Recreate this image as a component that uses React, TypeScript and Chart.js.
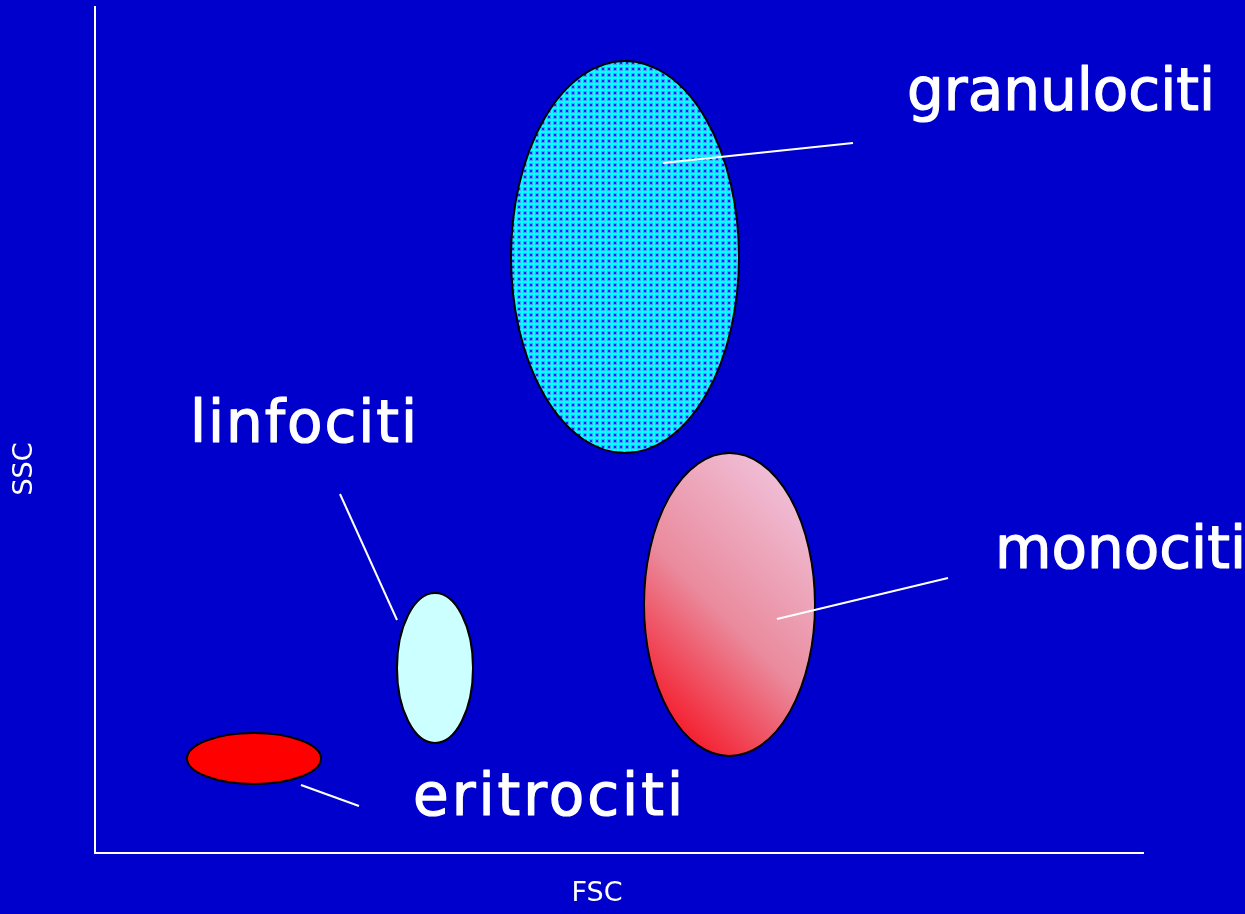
import React, { useEffect, useRef } from "react";
import { Chart, registerables } from "chart.js";

Chart.register(...registerables);

// Cell populations (FSC = forward scatter, SSC = side scatter)
const populations = ["granulociti", "monociti", "linfociti", "eritrociti"];
const fscCenter = [530, 634.5, 340, 159];
const sscCenter = [596, 248.5, 185, 94.5];
const fscSpread = [114, 85.5, 38, 67];
const sscSpread = [196, 151.5, 75, 25.5];

// Leader lines (data coordinates)
const leaderFromFsc = [568, 682, 302, 206];
const leaderFromSsc = [690, 234, 233, 68];
const leaderToFsc = [758, 853, 245, 264];
const leaderToSsc = [710, 275, 359, 47];

// Label anchors (data coordinates, left / baseline)
const labelFsc = [812, 900, 95, 318];
const labelSsc = [743, 285, 411, 38];
const labelWidth = [308, 245, 227, 270];

const xAxisTitle = "FSC";
const yAxisTitle = "SSC";
const fscMax = 1048;
const sscMax = 846;

const BG = "#0000CC";
const FONT = "'DejaVu Sans', sans-serif";

function makeDotPattern(ctx: CanvasRenderingContext2D) {
  const c = document.createElement("canvas");
  c.width = 6;
  c.height = 6;
  const g = c.getContext("2d")!;
  g.fillStyle = "#00FFFF";
  g.fillRect(0, 0, 6, 6);
  g.fillStyle = "#44A0FF";
  g.fillRect(1, 1, 4, 4);
  g.fillStyle = "#0A22FF";
  g.fillRect(2, 2, 2, 2);
  return ctx.createPattern(c, "repeat");
}

const flowPlugin = {
  id: "flowPlugin",
  beforeDraw(chart: any) {
    const { ctx, width, height } = chart;
    ctx.save();
    ctx.fillStyle = BG;
    ctx.fillRect(0, 0, width, height);
    ctx.restore();
  },
  afterDatasetsDraw(chart: any) {
    const { ctx } = chart;
    const xs = chart.scales.x;
    const ys = chart.scales.y;
    const fills: any[] = [];
    fills.push(makeDotPattern(ctx));
    {
      const cx = xs.getPixelForValue(fscCenter[1]);
      const cy = ys.getPixelForValue(sscCenter[1]);
      const rx = Math.abs(xs.getPixelForValue(fscCenter[1] + fscSpread[1]) - cx);
      const ry = Math.abs(ys.getPixelForValue(sscCenter[1] + sscSpread[1]) - cy);
      const d = (rx + ry) / 2;
      const gr = ctx.createLinearGradient(cx - d * 0.75, cy + d * 0.75, cx + d * 0.75, cy - d * 0.75);
      gr.addColorStop(0, "#F41E2E");
      gr.addColorStop(0.45, "#EA8A9C");
      gr.addColorStop(1, "#F0BED6");
      fills.push(gr);
    }
    fills.push("#CCFFFF");
    fills.push("#FF0000");

    populations.forEach((_, i) => {
      const cx = xs.getPixelForValue(fscCenter[i]);
      const cy = ys.getPixelForValue(sscCenter[i]);
      const rx = Math.abs(xs.getPixelForValue(fscCenter[i] + fscSpread[i]) - cx);
      const ry = Math.abs(ys.getPixelForValue(sscCenter[i] + sscSpread[i]) - cy);
      ctx.save();
      ctx.beginPath();
      ctx.ellipse(cx, cy, rx, ry, 0, 0, Math.PI * 2);
      ctx.fillStyle = fills[i];
      ctx.fill();
      ctx.lineWidth = 2;
      ctx.strokeStyle = "#000000";
      ctx.stroke();
      ctx.restore();
    });

    ctx.save();
    ctx.strokeStyle = "#FFFFFF";
    ctx.lineWidth = 2;
    populations.forEach((_, i) => {
      ctx.beginPath();
      ctx.moveTo(xs.getPixelForValue(leaderFromFsc[i]), ys.getPixelForValue(leaderFromSsc[i]));
      ctx.lineTo(xs.getPixelForValue(leaderToFsc[i]), ys.getPixelForValue(leaderToSsc[i]));
      ctx.stroke();
    });
    ctx.restore();

    ctx.save();
    ctx.fillStyle = "#FFFFFF";
    ctx.strokeStyle = "#FFFFFF";
    ctx.lineWidth = 1.2;
    ctx.lineJoin = "round";
    ctx.font = `58px ${FONT}`;
    ctx.textAlign = "left";
    ctx.textBaseline = "alphabetic";
    populations.forEach((name, i) => {
      const px = xs.getPixelForValue(labelFsc[i]);
      const py = ys.getPixelForValue(labelSsc[i]);
      (ctx as any).letterSpacing = "0px";
      const w = ctx.measureText(name).width;
      const sp = Math.max(0, (labelWidth[i] - w) / (name.length - 1));
      (ctx as any).letterSpacing = `${sp.toFixed(2)}px`;
      ctx.fillText(name, px, py);
      ctx.strokeText(name, px, py);
    });
    ctx.restore();

    ctx.save();
    ctx.fillStyle = "#FFFFFF";
    ctx.font = `27px ${FONT}`;
    ctx.textAlign = "center";
    ctx.textBaseline = "middle";
    ctx.fillText(xAxisTitle, xs.getPixelForValue(502), xs.bottom - 20);
    ctx.translate(ys.left + 25, ys.getPixelForValue(384));
    ctx.rotate(-Math.PI / 2);
    ctx.fillText(yAxisTitle, 0, 0);
    ctx.restore();
  },
};

export default function App() {
  const ref = useRef<HTMLCanvasElement>(null);
  useEffect(() => {
    const canvas = ref.current!;
    const chart = new Chart(canvas, {
      type: "scatter",
      data: {
        datasets: [
          {
            label: "popolazioni",
            data: fscCenter.map((x, i) => ({ x, y: sscCenter[i] })),
            pointRadius: 0,
            pointHoverRadius: 0,
          },
        ],
      },
      options: {
        responsive: false,
        animation: false,
        devicePixelRatio: 1,
        events: [],
        layout: { padding: { top: 7, right: 102, left: 0, bottom: 0 } },
        plugins: {
          legend: { display: false },
          tooltip: { enabled: false },
          title: { display: false },
        },
        scales: {
          x: {
            type: "linear",
            min: 0,
            max: fscMax,
            ticks: { display: false },
            grid: { display: false },
            border: { display: true, color: "#FFFFFF", width: 2 },
            afterFit: (s: any) => {
              s.height = 61;
            },
          },
          y: {
            type: "linear",
            min: 0,
            max: sscMax,
            ticks: { display: false },
            grid: { display: false },
            border: { display: true, color: "#FFFFFF", width: 2 },
            afterFit: (s: any) => {
              s.width = 95;
            },
          },
        },
      },
      plugins: [flowPlugin],
    });
    return () => chart.destroy();
  }, []);
  return (
    <div style={{ position: "absolute", left: 0, top: 0, width: 1245, height: 914, background: BG }}>
      <canvas ref={ref} width={1245} height={914} style={{ display: "block" }} />
    </div>
  );
}
